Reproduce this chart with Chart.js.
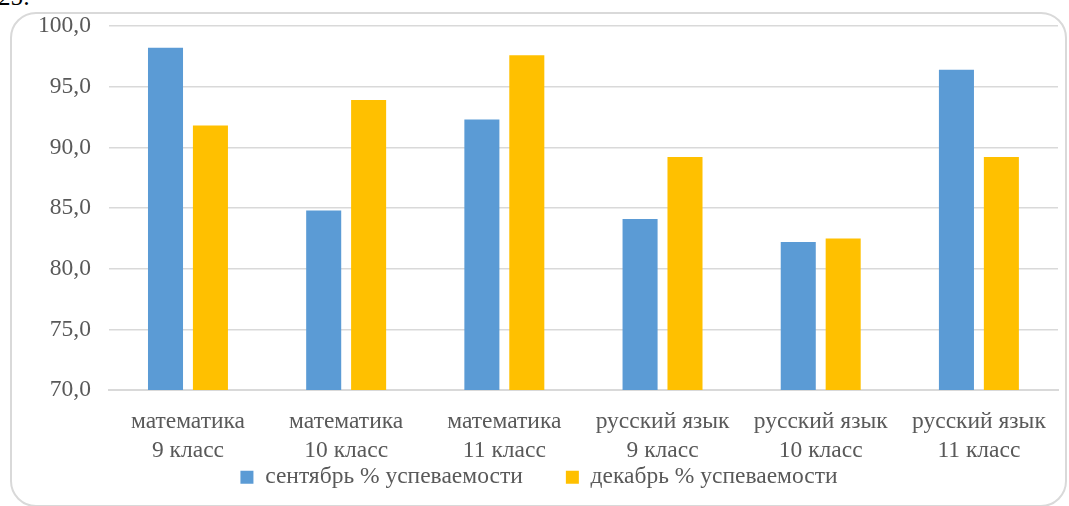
<!DOCTYPE html>
<html>
<head>
<meta charset="utf-8">
<script src="https://cdn.jsdelivr.net/npm/chart.js@4"></script>
<style>
  html,body{margin:0;padding:0;background:#fff;}
  body{width:1069px;height:506px;position:relative;overflow:hidden;font-family:"Liberation Serif","Times New Roman",serif;}
  .frame{position:absolute;left:10px;top:12px;width:1053px;height:491px;border:2px solid #d9d9d9;border-radius:26px;}
  .cut{position:absolute;left:-2px;top:-17px;font-size:25px;color:#000;}
  .wrap{position:absolute;left:0;top:0;width:1069px;height:506px;}
</style>
</head>
<body>
<div class="cut">25:</div>
<div class="frame"></div>
<div class="wrap"><canvas id="gradesChart" width="1069" height="506"></canvas></div>
<script>
// значения
const categories = [
  ['математика','9 класс'], ['математика','10 класс'], ['математика','11 класс'],
  ['русский язык','9 класс'], ['русский язык','10 класс'], ['русский язык','11 класс']
];
const septValues = [98.2, 84.8, 92.3, 84.1, 82.2, 96.4];
const decValues  = [91.8, 93.9, 97.6, 89.2, 82.5, 89.2];
const seriesNames = ['сентябрь % успеваемости', 'декабрь % успеваемости'];
const yTicks = [70, 75, 80, 85, 90, 95, 100];

const font = {family:'"Liberation Serif","Times New Roman",serif', size:23.5};

function legendItems(chart){
  // defaults, plus extra gap after the first item like in the original
  const items = Chart.defaults.plugins.legend.labels.generateLabels(chart);
  items.forEach((it, i)=>{ if (i < items.length-1) it.text = it.text + '\u00a0'.repeat(7); });
  return items;
}

window.addEventListener('DOMContentLoaded', ()=>{
  const ctx = document.getElementById('gradesChart');
  new Chart(ctx, {
    type: 'bar',
    data: {
      labels: categories,
      datasets: [
        { label: seriesNames[0], data: septValues, backgroundColor:'#5b9bd5' },
        { label: seriesNames[1], data: decValues,  backgroundColor:'#ffc000' }
      ]
    },
    options:{
      responsive:false,
      animation:false,
      devicePixelRatio:1,
      layout:{padding:{top:26, left:20, right:11, bottom:7}},
      datasets:{bar:{categoryPercentage:0.568, barPercentage:0.78}},
      plugins:{
        tooltip:{enabled:false},
        legend:{
          position:'bottom',
          labels:{boxWidth:13, boxHeight:13, color:'#595959', font, padding:2, generateLabels:legendItems}
        }
      },
      scales:{
        x:{
          grid:{display:false},
          border:{color:'#d9d9d9', width:2},
          ticks:{color:'#595959', font:{...font, lineHeight:1.2}, maxRotation:0, autoSkip:false, padding:10},
          afterFit:(s)=>{ s.height -= 11; }
        },
        y:{
          min:70, max:100,
          afterBuildTicks:(axis)=>{ axis.ticks = yTicks.map(v=>({value:v})); },
          afterFit:(s)=>{ s.paddingTop = 0; },
          grid:{color:'#d9d9d9', lineWidth:1.5, drawTicks:false},
          border:{display:false},
          ticks:{color:'#595959', font, padding:18,
            callback:(v)=>v.toFixed(1).replace('.', ',')}
        }
      }
    }
  });
});
</script>
</body>
</html>
